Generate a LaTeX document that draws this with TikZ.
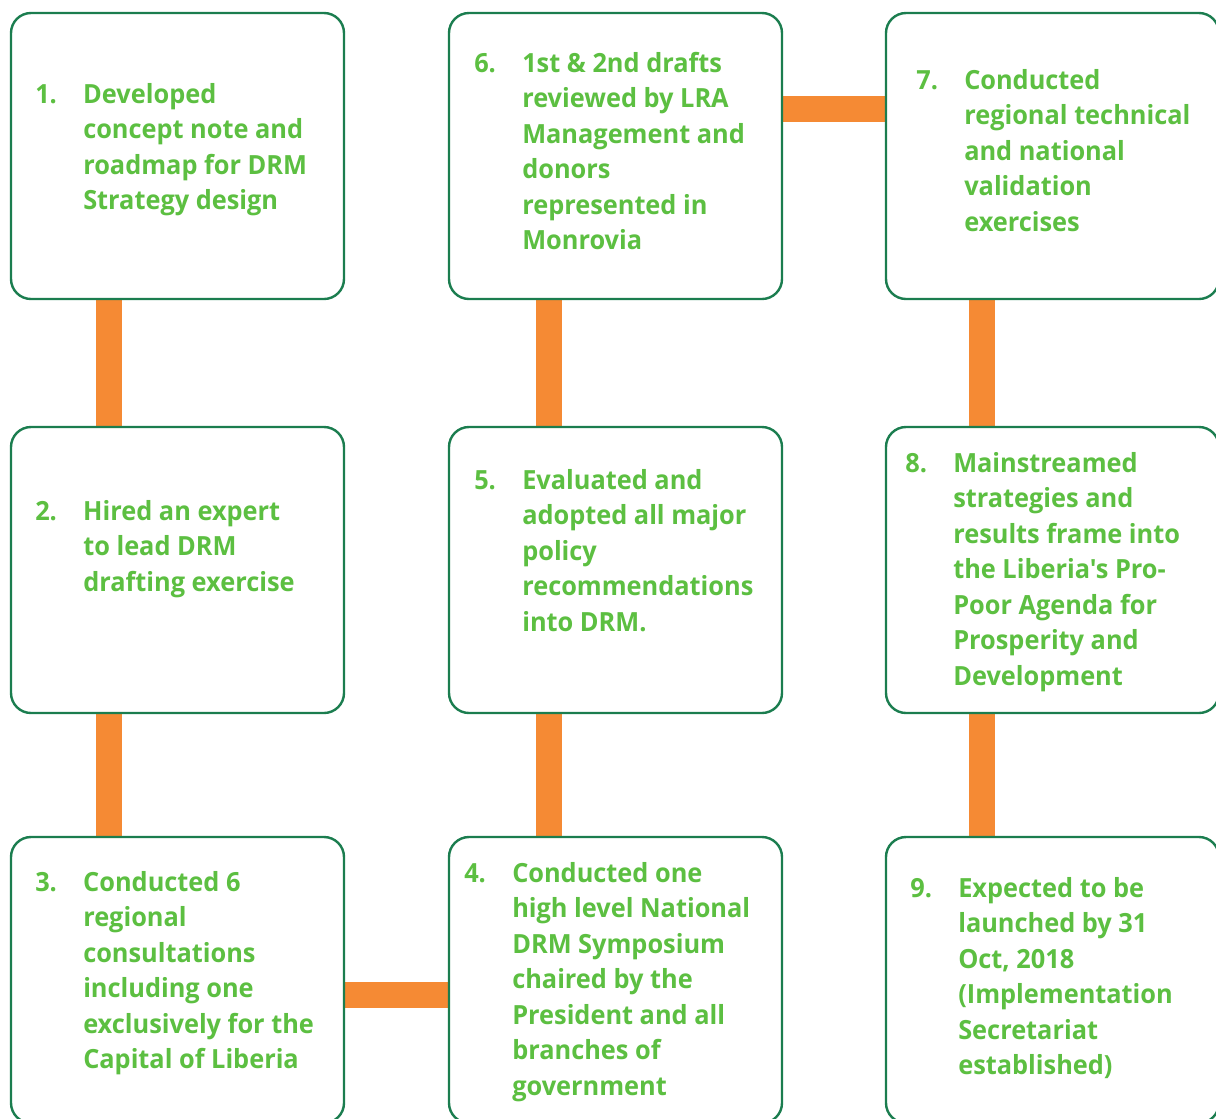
\documentclass[tikz,border=0pt]{standalone}
\usepackage{fontspec}
\setmainfont{Open Sans}[FakeStretch=0.96,Ligatures=TeXOff]
\usetikzlibrary{calc,backgrounds}
\definecolor{drmgreen}{HTML}{5CBF41}
\definecolor{drmframe}{HTML}{1B7D4F}
\definecolor{drmorange}{HTML}{F58A34}
\newcommand{\drmitem}[2]{\begin{tabular}[t]{@{}p{36pt}@{}l@{}}#1&\begin{tabular}[t]{@{}l@{}}#2\end{tabular}\end{tabular}}
\begin{document}
\begin{tikzpicture}[x=0.75pt,y=-0.75pt,
		box/.style={draw=drmframe,line width=1.8pt,fill=white,rounded corners=15pt,
			minimum width=249.75pt,minimum height=214.5pt,inner sep=0pt},
		link/.style={drmorange,line width=19.5pt},
		item/.style={anchor=base west,inner sep=0pt,text=drmgreen,
			font=\fontsize{19.8pt}{26.6pt}\selectfont\bfseries}]
	\useasboundingbox (0,0) rectangle (1216,1118);
	% boxes
	\node[box] (b1) at (177.5,156) {};
	\node[box] (b2) at (177.5,570) {};
	\node[box] (b3) at (177.5,980) {};
	\node[box] (b4) at (615.5,980) {};
	\node[box] (b5) at (615.5,570) {};
	\node[box] (b6) at (615.5,156) {};
	\node[box] (b7) at (1052.5,156) {};
	\node[box] (b8) at (1052.5,570) {};
	\node[box] (b9) at (1052.5,980) {};
	% connectors
	\begin{scope}[on background layer]
		\draw[link] ($(b1.south west)+(99,0)$) -- ($(b2.north west)+(99,0)$);
		\draw[link] ($(b2.south west)+(99,0)$) -- ($(b3.north west)+(99,0)$);
		\draw[link] ($(b3.north east)+(0,159.5)$) -- ($(b4.north west)+(0,159.5)$);
		\draw[link] ($(b4.north west)+(101.5,0)$) -- ($(b5.south west)+(101.5,0)$);
		\draw[link] ($(b5.north west)+(101.5,0)$) -- ($(b6.south west)+(101.5,0)$);
		\draw[link] ($(b6.north east)+(0,97.5)$) -- ($(b7.north west)+(0,97.5)$);
		\draw[link] ($(b7.south west)+(97,0)$) -- ($(b8.north west)+(97,0)$);
		\draw[link] ($(b8.south west)+(97,0)$) -- ($(b9.north west)+(97,0)$);
	\end{scope}
	% texts
	\node[item] (t1) at (35,103.5) {\drmitem{1.}{Developed\\concept note and\\roadmap for DRM\\Strategy design}};
	\node[item] (t2) at (35,520.5) {\drmitem{2.}{Hired an expert\\to lead DRM\\drafting exercise}};
	\node[item] (t3) at (35,891.5) {\drmitem{3.}{Conducted 6\\regional\\consultations\\including one\\exclusively for the\\Capital of Liberia}};
	\node[item] (t4) at (464,882.5) {\drmitem{4.}{Conducted one\\high level National\\DRM Symposium\\chaired by the\\President and all\\branches of\\government}};
	\node[item] (t5) at (474,489.5) {\drmitem{5.}{Evaluated and\\adopted all major\\policy\\recommendations\\into DRM.}};
	\node[item] (t6) at (474,72.5) {\drmitem{6.}{1st \& 2nd drafts\\reviewed by LRA\\Management and\\donors\\represented in\\Monrovia}};
	\node[item] (t7) at (916,89.5) {\drmitem{7.}{Conducted\\regional technical\\and national\\validation\\exercises}};
	\node[item] (t8) at (905,472.5) {\drmitem{8.}{Mainstreamed\\strategies and\\results frame into\\the Liberia's Pro-\\Poor Agenda for\\Prosperity and\\Development}};
	\node[item] (t9) at (910,897.5) {\drmitem{9.}{Expected to be\\launched by 31\\Oct, 2018\\(Implementation\\Secretariat\\established)}};
\end{tikzpicture}
\end{document}
